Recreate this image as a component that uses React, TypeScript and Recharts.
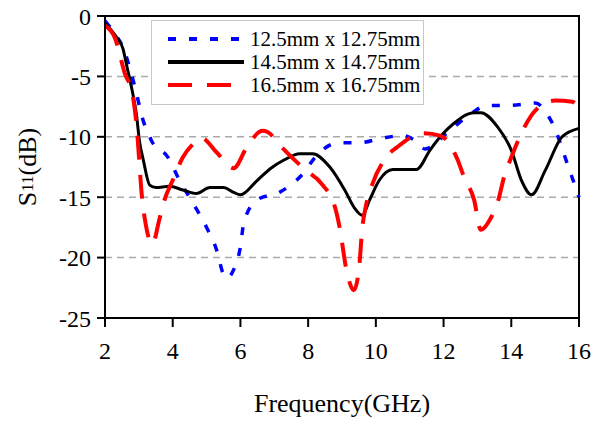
import { LineChart, Line, XAxis, YAxis, CartesianGrid, ReferenceArea } from 'recharts';

// frequency (GHz) / S11 (dB)
const freq125 = [2, 2.14, 2.35, 2.53, 2.73, 2.93, 3.08, 3.37, 3.86, 4.2, 4.6, 5.0, 5.3, 5.5, 5.6, 5.8, 6.0, 6.1, 6.5, 7.15, 7.8, 8.3, 8.9, 9.5, 10.2, 10.8, 11.1, 11.45, 12.1, 12.8, 13.3, 14.0, 14.7, 15.2, 15.7, 16];
const s11_125 = [-0.4, -0.9, -1.7, -2.6, -4.3, -6.4, -8.2, -10.3, -11.7, -13.6, -15.5, -17.5, -19.4, -21.4, -21.7, -21.0, -19.1, -17.1, -15.2, -14.6, -13.2, -11.4, -10.5, -10.5, -10.1, -9.9, -10.2, -11.0, -9.7, -8.1, -7.4, -7.4, -7.2, -8.8, -12.6, -15.0];

const freq145 = [2, 2.35, 2.53, 2.64, 2.79, 2.93, 3.02, 3.13, 3.32, 3.5, 3.9, 4.3, 4.7, 5.1, 5.5, 5.8, 6.0, 6.5, 6.9, 7.3, 7.75, 8.13, 8.64, 9.08, 9.37, 9.6, 9.82, 10.1, 10.5, 11.2, 11.6, 11.9, 12.3, 12.9, 13.1, 13.6, 14.0, 14.3, 14.6, 15.0, 15.5, 16];
const s11_145 = [-0.6, -1.8, -2.7, -4.1, -6.0, -8.2, -10.4, -11.9, -14.0, -14.2, -14.1, -14.4, -14.7, -14.2, -14.2, -14.6, -14.8, -13.6, -12.6, -11.9, -11.4, -11.4, -12.5, -14.4, -15.9, -16.5, -15.2, -13.6, -12.7, -12.7, -11.1, -10.0, -8.9, -8.0, -8.0, -9.2, -11.1, -13.6, -14.8, -12.8, -10.0, -9.3];

const freq165 = [2, 2.29, 2.58, 2.82, 2.93, 3.1, 3.2, 3.4, 3.6, 3.76, 4.0, 4.3, 4.6, 4.85, 5.3, 5.8, 6.2, 6.65, 6.8, 7.2, 7.9, 8.4, 8.8, 8.93, 9.13, 9.35, 9.5, 9.6, 9.7, 9.9, 10.25, 10.7, 11.4, 11.9, 12.4, 12.6, 12.9, 13.1, 13.4, 13.6, 13.8, 14.0, 14.3, 14.6, 15.0, 15.3, 15.8, 16];
const s11_165 = [-0.8, -1.8, -4.7, -6.6, -9.0, -15.2, -17.2, -18.9, -16.9, -15.2, -13.6, -11.7, -10.6, -10.1, -11.3, -12.6, -10.8, -9.5, -9.6, -10.8, -12.7, -13.9, -15.9, -17.5, -21.0, -22.7, -21.0, -17.5, -15.8, -13.9, -11.9, -10.7, -9.7, -9.9, -11.8, -13.3, -15.2, -17.7, -16.7, -15.4, -13.2, -11.7, -9.7, -8.2, -7.2, -7.0, -7.1, -7.6];

const xTicks = [2, 4, 6, 8, 10, 12, 14, 16];
const yTicks = [0, -5, -10, -15, -20, -25];

const zip = (xs: number[], ys: number[]) => xs.map((f, i) => ({ f, v: ys[i] }));

const series = [
  { name: '12.5mm x 12.75mm', data: zip(freq125, s11_125), color: '#0000ff', dash: '8 13', width: 3.5 },
  { name: '14.5mm x 14.75mm', data: zip(freq145, s11_145), color: '#000000', dash: undefined, width: 3 },
  { name: '16.5mm x 16.75mm', data: zip(freq165, s11_165), color: '#ff0000', dash: '24 15', width: 4 },
];

const font = '"Liberation Serif", "Times New Roman", serif';

function LegendBox() {
  return (
    <div
      style={{
        position: 'absolute',
        left: 151,
        top: 20,
        width: 271,
        height: 83,
        border: '1px solid #c8c8c8',
        background: '#fff',
        fontFamily: font,
        fontSize: 21,
        color: '#000',
      }}
    >
      {series.map((s, i) => (
        <div key={s.name} style={{ position: 'absolute', left: 16, top: 7 + i * 23, height: 22, display: 'flex', alignItems: 'center' }}>
          <svg width={76} height={10}>
            <line x1={0} y1={5} x2={76} y2={5} stroke={s.color} strokeWidth={4} strokeDasharray={s.dash} />
          </svg>
          <span style={{ marginLeft: 6, whiteSpace: 'nowrap' }}>{s.name}</span>
        </div>
      ))}
    </div>
  );
}

export default function App() {
  // pull the chart back over the body margin so it matches the page coordinates
  return (
    <div style={{ position: 'relative', width: 603, height: 424, margin: '-8px 0 0 -8px' }}>
      <LineChart width={603} height={424} margin={{ top: 16, right: 24, bottom: 0, left: 8 }}>
        <CartesianGrid horizontal vertical={false} stroke="#aaaaaa" strokeDasharray="7 5" strokeWidth={1.5} />
        <XAxis
          type="number"
          dataKey="f"
          domain={[2, 16]}
          ticks={xTicks}
          interval={0}
          height={106}
          stroke="#000"
          strokeWidth={2}
          tickSize={9}
          tickMargin={15}
          tick={{ fill: '#000', fontSize: 24, fontFamily: font }}
          label={{ value: 'Frequency(GHz)', position: 'insideBottom', offset: 12, fill: '#000', fontSize: 26, fontFamily: font }}
          allowDuplicatedCategory={false}
        />
        <YAxis
          type="number"
          domain={[-25, 0]}
          ticks={yTicks}
          interval={0}
          width={97}
          stroke="#000"
          strokeWidth={2}
          tickSize={8}
          tickMargin={6}
          tick={{ fill: '#000', fontSize: 24, fontFamily: font }}
          label={(props: any) => {
            const vb = props.viewBox;
            const cx = 27;
            const cy = vb.y + vb.height / 2;
            return (
              <text x={cx} y={cy} transform={`rotate(-90 ${cx} ${cy})`} textAnchor="middle" dominantBaseline="central" fill="#000" fontSize={26} fontFamily={font}>
                S<tspan fontSize={17}>11</tspan>(dB)
              </text>
            );
          }}
        />
        <ReferenceArea x1={2} x2={16} y1={-25} y2={0} stroke="#000" strokeWidth={2} fill="none" fillOpacity={0} ifOverflow="visible" />
        {series.map((s) => (
          <Line
            key={s.name}
            data={s.data}
            dataKey="v"
            name={s.name}
            type="monotone"
            stroke={s.color}
            strokeWidth={s.width}
            strokeDasharray={s.dash}
            dot={false}
            activeDot={false}
            isAnimationActive={false}
          />
        ))}
      </LineChart>
      <LegendBox />
    </div>
  );
}
